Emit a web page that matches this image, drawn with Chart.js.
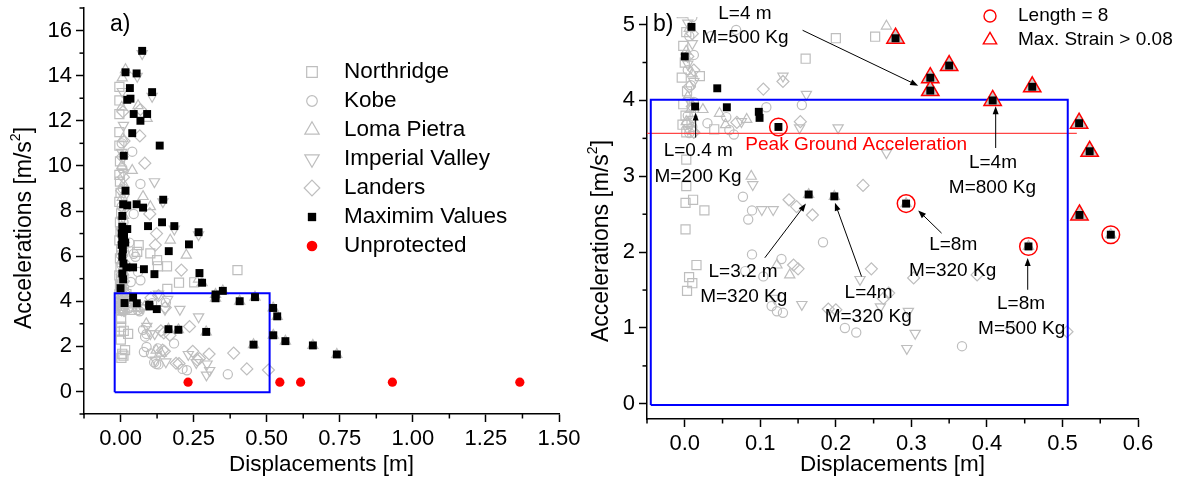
<!DOCTYPE html>
<html>
<head>
<meta charset="utf-8">
<script src="https://cdn.jsdelivr.net/npm/chart.js@4.4.0/dist/chart.umd.min.js"></script>
<style>
html, body { margin: 0; padding: 0; background: #fff; }
#wrap { position: relative; width: 1183px; height: 486px; overflow: hidden; background: #fff; }
#chartA { position: absolute; left: 0; top: 0; }
#chartB { position: absolute; left: 580px; top: 0; }
</style>
</head>
<body>
<div id="wrap">
  <canvas id="chartA" width="590" height="486"></canvas>
  <canvas id="chartB" width="603" height="486"></canvas>
</div>
<script>
// data: [displacement m, acceleration m/s2]
const northridge = [
  [-0.004,13.5],[-0.004,12.9],[-0.004,12.3],[-0.004,11.5],[-0.004,10.9],[-0.002,10.2],[-0.004,9.6],[-0.002,9.3],
  [0.0,8.8],[-0.004,8.4],[0.002,7.9],[-0.002,7.5],[0.0,7.1],[-0.004,6.7],[0.002,6.3],[-0.002,5.9],[0.0,5.5],
  [-0.004,5.15],[0.002,4.9],[-0.002,4.72],[0.0,4.5],[-0.004,4.3],[0.003,4.12],[-0.002,3.95],[0.001,3.8],
  [-0.003,3.68],[0.002,3.58],
  [0.02,4.32],[0.039,3.62],[0.16,4.55],[0.2,4.82],[0.252,4.84],[0.4,5.38],[0.159,5.55],[0.128,5.55],
  [0.125,5.82],[0.062,6.49],[0.102,6.12],[0.057,6.19],[0.002,3.22],[0.002,2.87],[0.001,2.65],[0.011,2.69],
  [0.026,2.55],[0.001,2.30],[0.0155,1.83],[0.0057,1.67],[0.01,1.59],[0.003,1.49]
];
const kobe = [
  [0.004,11.0],[0.006,9.9],[0.008,9.0],[0.004,8.2],[0.01,7.5],[0.006,6.9],[0.012,6.2],[0.004,5.6],[0.01,5.1],
  [0.006,4.85],[0.012,4.6],[0.004,4.4],[0.008,4.2],[0.012,3.98],[0.004,3.8],[0.01,3.65],[0.006,3.57],
  [0.04,10.63],[0.068,9.2],[0.045,7.87],[0.03,6.6],[0.045,6.1],[0.051,5.97],[0.06,5.3],[0.035,4.85],[0.068,4.93],
  [0.108,3.91],[0.155,3.94],[0.055,3.78],[0.065,3.55],[0.03,3.70],[0.059,3.61],[0.077,2.73],[0.089,2.55],
  [0.084,2.43],[0.183,2.13],[0.089,1.97],[0.128,1.91],[0.08,1.75],[0.104,1.68],[0.115,1.29],[0.122,1.22],
  [0.13,1.2],[0.212,1.0],[0.227,0.94],[0.367,0.76]
];
const lomaPietra = [
  [0.006,13.9],[0.004,12.6],[0.008,11.2],[0.004,10.0],[0.01,9.2],[0.006,8.6],[0.01,7.8],[0.004,7.3],[0.008,6.5],
  [0.004,5.8],[0.01,5.3],[0.006,4.95],[0.002,4.65],[0.01,4.35],[0.004,4.05],[0.008,3.88],[0.002,3.72],[0.012,3.6],
  [0.017,14.27],[0.06,12.67],[0.091,12.1],[0.04,9.8],[0.102,8.19],[0.077,8.64],[0.17,6.71],[0.225,6.04],
  [0.024,3.88],[0.046,3.83],[0.054,3.68],[0.082,3.75],[0.088,3.0],[0.267,4.98],[0.122,1.83],[0.139,1.7],
  [0.279,4.82],[0.325,4.30],[0.325,4.13],[0.35,4.46],[0.4076,4.0],[0.46,4.18],[0.522,3.70],[0.536,3.33],
  [0.5225,2.49],[0.293,2.64],[0.564,2.23],[0.455,2.075],[0.164,2.76],[0.198,2.735],[0.658,2.04],[0.74,1.64]
];
const imperialValley = [
  [0.006,13.3],[0.01,11.8],[0.004,10.6],[0.008,9.7],[0.012,8.6],[0.004,7.6],[0.01,6.95],[0.006,6.1],[0.012,5.4],
  [0.004,5.02],[0.01,4.75],[0.004,4.48],[0.012,4.25],[0.006,4.0],[0.01,3.75],[0.004,3.62],
  [0.074,14.98],[0.057,13.97],[0.108,13.08],[0.116,9.3],[0.145,8.41],[0.184,7.2],[0.267,6.95],
  [0.13,4.32],[0.161,4.08],[0.203,3.64],[0.152,3.64],[0.075,3.72],[0.267,3.31],[0.09,2.89],
  [0.117,2.56],[0.102,2.56],[0.232,1.64],[0.155,1.31],[0.119,1.39],[0.294,0.73],[0.305,0.93],[0.259,1.28],[0.296,1.22]
];
const landers = [
  [0.008,12.4],[0.012,11.1],[0.006,10.4],[0.01,9.5],[0.004,8.9],[0.012,8.1],[0.006,7.2],[0.01,6.6],[0.004,6.0],
  [0.012,5.7],[0.006,5.2],[0.01,4.88],[0.004,4.58],[0.012,4.4],[0.006,4.18],[0.01,3.92],[0.004,3.7],[0.012,3.58],
  [0.068,12.5],[0.066,11.33],[0.083,10.12],[0.1,7.87],[0.123,7.0],[0.119,6.49],[0.208,5.38],[0.104,4.15],[0.13,4.25],
  [0.153,3.72],[0.069,3.71],[0.138,2.69],[0.148,2.6],[0.169,2.49],[0.236,2.88],[0.144,1.83],[0.15,1.78],
  [0.247,1.78],[0.19,1.25],[0.2,1.24],[0.263,1.39],[0.27,1.46],[0.303,1.66],[0.387,1.7],[0.432,1.0],[0.506,0.95]
];
const maxValues = [
  [0.074,15.1],[0.017,14.15],[0.055,14.1],[0.032,13.45],[0.023,12.93],[0.034,12.98],[0.108,13.27],[0.045,12.3],
  [0.091,12.3],[0.068,12.0],[0.04,11.45],[0.134,10.9],[0.011,10.45],[0.017,8.9],[0.009,8.3],[0.023,8.25],
  [0.055,8.3],[0.077,8.15],[0.146,8.5],[0.006,7.78],[0.006,7.3],[0.023,7.2],[0.094,7.33],[0.142,7.5],[0.184,7.33],
  [0.267,7.06],[0.234,6.52],[0.165,6.22],[0.004,7.0],[0.006,6.75],[0.004,6.5],[0.012,6.9],[0.016,6.6],[0.008,6.3],
  [0.006,5.97],[0.01,5.67],[0.02,5.5],[0.043,5.5],[0.08,5.42],[0.006,5.23],[0.116,5.2],[0.27,5.25],
  [0.0089,4.97],[0.0,4.58],[0.043,4.16],[0.0137,3.92],[0.0557,3.91],[0.098,3.85],[0.099,3.77],[0.124,3.65],
  [0.164,2.76],[0.198,2.735],[0.279,4.82],[0.325,4.30],[0.325,4.13],[0.35,4.46],[0.4076,4.0],[0.46,4.18],
  [0.522,3.70],[0.536,3.33],[0.5225,2.49],[0.293,2.64],[0.564,2.23],[0.455,2.075],[0.658,2.04],[0.74,1.64]
];
const unprotected = [[0.231,0.41],[0.545,0.41],[0.616,0.41],[0.93,0.41],[1.366,0.41]];
const length8 = [[0.124,3.65],[0.293,2.64],[0.455,2.075],[0.564,2.23]];
const maxStrain = [[0.279,4.82],[0.325,4.30],[0.325,4.13],[0.35,4.46],[0.4076,4.0],[0.46,4.18],[0.522,3.70],[0.536,3.33],[0.5225,2.49]];
const peakGround = [[-0.05,3.566],[0.519,3.566]];
const boxA = [[-0.02,-0.04],[0.51,-0.04],[0.51,4.355],[-0.02,4.355],[-0.02,-0.04]];
const boxB = [[-0.045,-0.015],[0.507,-0.015],[0.507,4.01],[-0.045,4.01],[-0.045,-0.015]];

const xMajorA = [0, 0.25, 0.5, 0.75, 1, 1.25, 1.5];
const xMinorA = [-0.125, 0.125, 0.375, 0.625, 0.875, 1.125, 1.375];
const yMajorA = [0, 2, 4, 6, 8, 10, 12, 14, 16];
const yMinorA = [-1, 1, 3, 5, 7, 9, 11, 13, 15, 17];
const xMajorB = [0, 0.1, 0.2, 0.3, 0.4, 0.5, 0.6];
const xMinorB = [-0.05, 0.05, 0.15, 0.25, 0.35, 0.45, 0.55];
const yMajorB = [0, 1, 2, 3, 4, 5];
const yMinorB = [0.5, 1.5, 2.5, 3.5, 4.5];

// callouts in panel b: text centre, arrows from -> to
const notesB = [
  ['L=4 m', 0.0797, 5.145], ['M=500 Kg', 0.0797, 4.83],
  ['L=0.4 m', 0.0179, 3.33], ['M=200 Kg', 0.0175, 3.0],
  ['L=3.2 m', 0.0772, 1.745], ['M=320 Kg', 0.0781, 1.416],
  ['L=4m', 0.2434, 1.46], ['M=320 Kg', 0.2429, 1.152],
  ['L=8m', 0.3554, 2.098], ['M=320 Kg', 0.3546, 1.759],
  ['L=8m', 0.4451, 1.319], ['M=500 Kg', 0.446, 0.985],
  ['L=4m', 0.408, 3.175], ['M=800 Kg', 0.4073, 2.846]
];
const arrowsB = [
  [0.156, 4.925, 0.309, 4.195],
  [0.0144, 3.51, 0.0144, 3.84],
  [0.106, 1.926, 0.1604, 2.64],
  [0.234, 1.68, 0.1988, 2.65],
  [0.34, 2.25, 0.309, 2.55],
  [0.454, 1.504, 0.454, 1.922],
  [0.4116, 3.373, 0.4116, 3.922]
];

const GREY = 'rgb(190,190,190)';
const FONT = "'Liberation Sans', Arial, Helvetica, sans-serif";
Chart.defaults.font.family = FONT;

const toXY = arr => arr.map(([x, y]) => ({ x, y }));

const MARK = {
  northridge: { style: 'rect', r: 6.4, stroke: GREY },
  kobe: { style: 'circle', r: 4.6, stroke: GREY },
  loma: { style: 'triangle', r: 5.9, stroke: GREY },
  imperial: { style: 'triangle', rot: 180, r: 5.9, stroke: GREY },
  landers: { style: 'rectRot', r: 6, stroke: GREY },
  max: { style: 'rect', r: 5.6, fill: '#000' },
  unprot: { style: 'circle', r: 4.6, fill: '#ff0000' }
};

function points(label, data, m, order, extra) {
  return Object.assign({
    label, data: toXY(data), order,
    pointStyle: m.style, pointRotation: m.rot || 0,
    pointRadius: m.r, pointHoverRadius: m.r,
    pointBorderColor: m.stroke || m.fill, pointBorderWidth: m.stroke ? 1.2 : 0,
    pointBackgroundColor: m.fill || 'rgba(0,0,0,0)',
    showLine: false
  }, extra || {});
}

function line(label, data, color, width, order) {
  return {
    label, data: toXY(data), order, showLine: true, fill: false, tension: 0,
    borderColor: color, borderWidth: width, pointRadius: 0, pointHoverRadius: 0
  };
}

function greyDatasets() {
  return [
    points('Northridge', northridge, MARK.northridge, 9),
    points('Kobe', kobe, MARK.kobe, 8),
    points('Loma Pietra', lomaPietra, MARK.loma, 7),
    points('Imperial Valley', imperialValley, MARK.imperial, 6),
    points('Landers', landers, MARK.landers, 5)
  ];
}

function drawMarker(ctx, m, x, y) {
  const r = m.r;
  ctx.save();
  ctx.translate(x, y);
  ctx.beginPath();
  if (m.style === 'circle') {
    ctx.arc(0, 0, r, 0, Math.PI * 2);
  } else if (m.style === 'rect') {
    const s = r * Math.SQRT1_2;
    ctx.rect(-s, -s, 2 * s, 2 * s);
  } else if (m.style === 'rectRot') {
    ctx.moveTo(0, -r); ctx.lineTo(r, 0); ctx.lineTo(0, r); ctx.lineTo(-r, 0); ctx.closePath();
  } else {
    const d = m.rot ? -1 : 1;
    ctx.moveTo(0, -r * d);
    ctx.lineTo(r * 0.866, r * 0.5 * d);
    ctx.lineTo(-r * 0.866, r * 0.5 * d);
    ctx.closePath();
  }
  if (m.fill) { ctx.fillStyle = m.fill; ctx.fill(); }
  if (m.stroke) { ctx.strokeStyle = m.stroke; ctx.lineWidth = m.lw || 1.2; ctx.stroke(); }
  ctx.restore();
}

// minor ticks, y title with superscript, panel letter, legend, callouts
function makeDecor(cfg) {
  return {
    id: 'decor',
    afterDraw(chart) {
      const ctx = chart.ctx, xs = chart.scales.x, ys = chart.scales.y, area = chart.chartArea;
      ctx.save();
      ctx.strokeStyle = '#000';
      ctx.lineWidth = 1.5;
      cfg.xMinor.forEach(v => {
        const p = xs.getPixelForValue(v);
        ctx.beginPath(); ctx.moveTo(p, area.bottom); ctx.lineTo(p, area.bottom + 4.5); ctx.stroke();
      });
      cfg.yMinor.forEach(v => {
        const p = ys.getPixelForValue(v);
        ctx.beginPath(); ctx.moveTo(area.left, p); ctx.lineTo(area.left - 4.5, p); ctx.stroke();
      });

      // y axis title
      ctx.save();
      ctx.translate(cfg.yTitle.x, cfg.yTitle.y);
      ctx.rotate(-Math.PI / 2);
      ctx.fillStyle = '#000';
      ctx.textBaseline = 'middle';
      ctx.textAlign = 'left';
      const big = cfg.yTitle.size + 'px ' + FONT, small = Math.round(cfg.yTitle.size * 0.62) + 'px ' + FONT;
      ctx.font = big;
      const w1 = ctx.measureText('Accelerations [m/s').width;
      const w3 = ctx.measureText(']').width;
      ctx.font = small;
      const w2 = ctx.measureText('2').width;
      let x0 = -(w1 + w2 + w3) / 2;
      ctx.font = big; ctx.fillText('Accelerations [m/s', x0, 0);
      ctx.font = small; ctx.fillText('2', x0 + w1, -cfg.yTitle.size * 0.38);
      ctx.font = big; ctx.fillText(']', x0 + w1 + w2, 0);
      ctx.restore();

      // panel letter
      ctx.fillStyle = '#000';
      ctx.font = '23px ' + FONT;
      ctx.textAlign = 'left';
      ctx.textBaseline = 'middle';
      ctx.fillText(cfg.letter.text, cfg.letter.x, cfg.letter.y);

      // arrows
      (cfg.arrows || []).forEach(([x1, y1, x2, y2]) => {
        const ax = xs.getPixelForValue(x1), ay = ys.getPixelForValue(y1);
        const bx = xs.getPixelForValue(x2), by = ys.getPixelForValue(y2);
        const ang = Math.atan2(by - ay, bx - ax);
        ctx.strokeStyle = '#000'; ctx.lineWidth = 1;
        ctx.beginPath(); ctx.moveTo(ax, ay); ctx.lineTo(bx - 6 * Math.cos(ang), by - 6 * Math.sin(ang)); ctx.stroke();
        ctx.fillStyle = '#000';
        ctx.beginPath();
        ctx.moveTo(bx, by);
        ctx.lineTo(bx - 8 * Math.cos(ang) + 3 * Math.sin(ang), by - 8 * Math.sin(ang) - 3 * Math.cos(ang));
        ctx.lineTo(bx - 8 * Math.cos(ang) - 3 * Math.sin(ang), by - 8 * Math.sin(ang) + 3 * Math.cos(ang));
        ctx.closePath(); ctx.fill();
      });

      // callout texts
      ctx.font = '19px ' + FONT;
      ctx.textAlign = 'center';
      (cfg.notes || []).forEach(([t, x, y]) => {
        ctx.fillStyle = '#000';
        ctx.fillText(t, xs.getPixelForValue(x), ys.getPixelForValue(y));
      });
      if (cfg.redNote) {
        ctx.fillStyle = '#ff0000';
        ctx.fillText(cfg.redNote[0], xs.getPixelForValue(cfg.redNote[1]), ys.getPixelForValue(cfg.redNote[2]));
      }

      // legend
      const lg = cfg.legend;
      ctx.font = lg.size + 'px ' + FONT;
      ctx.textAlign = 'left';
      lg.items.forEach((it, i) => {
        const y = lg.y + i * lg.dy;
        drawMarker(ctx, it.m, lg.x, y);
        ctx.fillStyle = '#000';
        ctx.fillText(it.label, lg.textX, y);
      });
      ctx.restore();
    }
  };
}

function scaleCfg(min, max, majors, fmt, fit, title) {
  return {
    type: 'linear', min, max,
    afterBuildTicks: s => { s.ticks = majors.map(v => ({ value: v })); },
    afterFit: fit,
    ticks: {
      autoSkip: false, maxRotation: 0, minRotation: 0, padding: 4, color: '#000',
      font: { family: FONT, size: 22 }, callback: fmt
    },
    grid: { display: true, drawOnChartArea: false, drawTicks: true, tickLength: 8, tickColor: '#000', tickWidth: 1.5 },
    border: { display: true, color: '#000', width: 1.5 },
    title: title ? {
      display: true, text: title, color: '#000',
      font: { family: FONT, size: 22.5 }, padding: { top: 0, bottom: 8 }
    } : { display: false }
  };
}

const baseOptions = (padding, scales) => ({
  responsive: false, maintainAspectRatio: false, animation: false, events: [],
  layout: { padding },
  plugins: { legend: { display: false }, tooltip: { enabled: false } },
  scales
});

// panel a
new Chart(document.getElementById('chartA'), {
  type: 'scatter',
  data: {
    datasets: [
      points('Unprotected', unprotected, MARK.unprot, 0),
      points('Maximim Values', maxValues, MARK.max, 1),
      line('box', boxA, '#0000ff', 2, 3)
    ].concat(greyDatasets())
  },
  options: baseOptions({ left: 0, right: 31, top: 8, bottom: 0 }, {
    x: scaleCfg(-0.125, 1.5, xMajorA, v => v.toFixed(2),
      s => { s.height = 72; s.paddingLeft = 0; s.paddingRight = 0; }, 'Displacements [m]'),
    y: scaleCfg(-1, 17, yMajorA, v => String(v),
      s => { s.width = 84; s.paddingTop = 0; s.paddingBottom = 0; }, null)
  }),
  plugins: [makeDecor({
    xMinor: xMinorA, yMinor: yMinorA,
    yTitle: { x: 25, y: 228, size: 23 },
    letter: { text: 'a)', x: 110, y: 25 },
    legend: {
      x: 312, textX: 344, y: 72, dy: 29, size: 22.5,
      items: [
        { label: 'Northridge', m: { style: 'rect', r: 7.5, stroke: GREY } },
        { label: 'Kobe', m: { style: 'circle', r: 5.3, stroke: GREY } },
        { label: 'Loma Pietra', m: { style: 'triangle', r: 8.3, stroke: GREY } },
        { label: 'Imperial Valley', m: { style: 'triangle', rot: 180, r: 8.3, stroke: GREY } },
        { label: 'Landers', m: { style: 'rectRot', r: 7.8, stroke: GREY } },
        { label: 'Maximim Values', m: { style: 'rect', r: 5.9, fill: '#000' } },
        { label: 'Unprotected', m: { style: 'circle', r: 5.3, fill: '#ff0000' } }
      ]
    }
  })]
});

// panel b
new Chart(document.getElementById('chartB'), {
  type: 'scatter',
  data: {
    datasets: [
      points('Length = 8', length8, { style: 'circle', r: 8.8, stroke: '#ff0000' }, 0, { pointBorderWidth: 1.5 }),
      points('Maximim Values', maxValues, MARK.max, 1),
      points('Max. Strain > 0.08', maxStrain, { style: 'triangle', r: 10, stroke: '#ff0000', fill: 'rgb(200,200,200)' }, 2, { pointBorderWidth: 1.5 }),
      line('box', boxB, '#0000ff', 2, 3),
      line('Peak Ground Acceleration', peakGround, 'rgb(255,70,70)', 1.3, 3)
    ].concat(greyDatasets())
  },
  options: baseOptions({ left: 0, right: 45, top: 17, bottom: 0 }, {
    x: scaleCfg(-0.05, 0.6, xMajorB, v => v.toFixed(1),
      s => { s.height = 67; s.paddingLeft = 0; s.paddingRight = 0; }, 'Displacements [m]'),
    y: scaleCfg(-0.2, 5.1, yMajorB, v => String(v),
      s => { s.width = 67; s.paddingTop = 0; s.paddingBottom = 0; }, null)
  }),
  plugins: [makeDecor({
    xMinor: xMinorB, yMinor: yMinorB,
    yTitle: { x: 22, y: 241, size: 23 },
    letter: { text: 'b)', x: 73, y: 25 },
    notes: notesB, arrows: arrowsB,
    redNote: ['Peak Ground Acceleration', 0.227, 3.417],
    legend: {
      x: 410, textX: 438, y: 16, dy: 24, size: 19,
      items: [
        { label: 'Length = 8', m: { style: 'circle', r: 6, stroke: '#ff0000', lw: 1.4 } },
        { label: 'Max. Strain > 0.08', m: { style: 'triangle', r: 7.7, stroke: '#ff0000', lw: 1.4 } }
      ]
    }
  })]
});
</script>
</body>
</html>
